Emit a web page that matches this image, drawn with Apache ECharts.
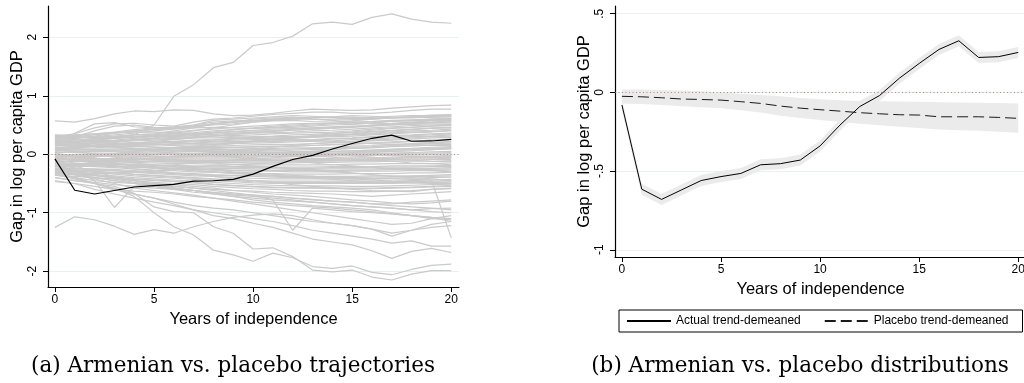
<!DOCTYPE html>
<html>
<head>
<meta charset="utf-8">
<script src="https://cdn.jsdelivr.net/npm/echarts@6/dist/echarts.min.js"></script>
<style>
  html, body { margin: 0; padding: 0; background: #fff; overflow: hidden; }
  #chart { width: 1024px; height: 383px; }
</style>
</head>
<body>
<div id="chart"></div>
<script>
const years = [0,1,2,3,4,5,6,7,8,9,10,11,12,13,14,15,16,17,18,19,20];

// Armenia (same path in both panels)
const actual = [-0.08,-0.615,-0.68,-0.62,-0.56,-0.535,-0.515,-0.46,-0.453,-0.43,-0.34,-0.208,-0.09,-0.02,0.09,0.184,0.273,0.328,0.222,0.227,0.254];
const actualHi = [-0.045,-0.58,-0.645,-0.585,-0.525,-0.5,-0.48,-0.425,-0.418,-0.395,-0.305,-0.173,-0.055,0.015,0.125,0.219,0.308,0.363,0.257,0.262,0.289];
const actualLo = [-0.115,-0.65,-0.715,-0.655,-0.595,-0.57,-0.55,-0.495,-0.488,-0.465,-0.375,-0.243,-0.125,-0.055,0.055,0.149,0.238,0.293,0.187,0.192,0.219];

// placebo mean and its band
const placeboMean = [-0.025,-0.028,-0.034,-0.042,-0.045,-0.049,-0.059,-0.07,-0.087,-0.1,-0.11,-0.119,-0.129,-0.136,-0.142,-0.144,-0.155,-0.155,-0.155,-0.159,-0.165];
const placeboHi = [0.019,0.018,0.016,0.012,0.008,0.0,-0.008,-0.016,-0.025,-0.035,-0.044,-0.05,-0.054,-0.056,-0.058,-0.059,-0.062,-0.064,-0.066,-0.068,-0.07];
const placeboLo = [-0.07,-0.074,-0.08,-0.088,-0.094,-0.1,-0.113,-0.128,-0.148,-0.163,-0.176,-0.188,-0.2,-0.209,-0.218,-0.226,-0.236,-0.24,-0.244,-0.25,-0.256];

// placebo trajectories, left panel
const placeboHigh = [
  [0.22,0.27,0.3,0.28,0.33,0.5,0.99,1.19,1.48,1.57,1.86,1.91,2.02,2.23,2.26,2.22,2.34,2.40,2.31,2.26,2.24]
];
const placeboUpper = [
  [0.57,0.55,0.61,0.69,0.74,0.73,0.76,0.75,0.69,0.66,0.67,0.70,0.74,0.77,0.76,0.75,0.76,0.79,0.81,0.83,0.84],
  [0.30,0.35,0.45,0.52,0.53,0.50,0.48,0.55,0.60,0.62,0.65,0.68,0.70,0.72,0.72,0.70,0.70,0.72,0.75,0.77,0.77],
  [0.25,0.30,0.40,0.48,0.50,0.46,0.45,0.50,0.58,0.60,0.62,0.64,0.66,0.65,0.63,0.60,0.60,0.62,0.65,0.67,0.68],
  [0.20,0.36,0.52,0.54,0.47,0.45,0.44,0.48,0.52,0.55,0.57,0.58,0.60,0.62,0.64,0.66,0.65,0.63,0.62,0.64,0.66],
  [0.20,0.22,0.25,0.27,0.30,0.33,0.36,0.40,0.45,0.50,0.55,0.60,0.62,0.63,0.64,0.63,0.62,0.62,0.63,0.65,0.66],
  [0.32,0.30,0.28,0.30,0.33,0.35,0.40,0.45,0.52,0.55,0.60,0.62,0.63,0.60,0.58,0.55,0.52,0.53,0.55,0.57,0.60],
  [0.05,0.10,0.15,0.20,0.25,0.28,0.32,0.35,0.38,0.42,0.45,0.48,0.50,0.52,0.53,0.55,0.56,0.57,0.58,0.60,0.62]
];
const placeboCore = [
  [0.33,0.32,0.35,0.38,0.42,0.45,0.47,0.50,0.55,0.57,0.58,0.60,0.62,0.63,0.62,0.61,0.63,0.65,0.66,0.66,0.67],
  [0.31,0.30,0.33,0.36,0.39,0.43,0.45,0.48,0.52,0.55,0.57,0.59,0.60,0.60,0.59,0.59,0.61,0.63,0.64,0.65,0.66],
  [0.30,0.28,0.30,0.33,0.36,0.40,0.43,0.47,0.50,0.52,0.55,0.57,0.58,0.56,0.55,0.57,0.60,0.62,0.63,0.63,0.64],
  [0.28,0.25,0.26,0.28,0.30,0.32,0.35,0.37,0.40,0.42,0.44,0.46,0.48,0.50,0.52,0.54,0.56,0.58,0.59,0.60,0.61],
  [0.27,0.29,0.29,0.31,0.33,0.35,0.38,0.41,0.43,0.46,0.48,0.50,0.52,0.53,0.53,0.52,0.54,0.57,0.58,0.59,0.60],
  [0.26,0.27,0.31,0.36,0.40,0.42,0.44,0.45,0.46,0.45,0.44,0.45,0.46,0.48,0.50,0.51,0.53,0.56,0.57,0.58,0.58],
  [0.24,0.22,0.23,0.24,0.27,0.30,0.32,0.33,0.36,0.38,0.40,0.40,0.41,0.43,0.44,0.46,0.48,0.50,0.52,0.54,0.55],
  [0.23,0.21,0.24,0.27,0.29,0.31,0.33,0.35,0.37,0.39,0.41,0.43,0.44,0.45,0.46,0.47,0.50,0.52,0.54,0.55,0.57],
  [0.22,0.24,0.27,0.29,0.30,0.31,0.30,0.32,0.34,0.36,0.38,0.40,0.43,0.45,0.47,0.48,0.49,0.50,0.51,0.52,0.52],
  [0.20,0.18,0.19,0.21,0.24,0.26,0.27,0.29,0.31,0.32,0.33,0.35,0.36,0.37,0.38,0.40,0.43,0.45,0.46,0.48,0.49],
  [0.19,0.21,0.21,0.23,0.25,0.27,0.29,0.30,0.32,0.34,0.36,0.37,0.38,0.40,0.41,0.43,0.45,0.47,0.49,0.50,0.51],
  [0.18,0.20,0.22,0.22,0.23,0.24,0.26,0.28,0.28,0.29,0.30,0.31,0.33,0.34,0.36,0.37,0.39,0.41,0.43,0.45,0.46],
  [0.16,0.15,0.16,0.18,0.19,0.21,0.22,0.24,0.25,0.27,0.28,0.30,0.30,0.31,0.32,0.34,0.36,0.38,0.40,0.41,0.43],
  [0.15,0.13,0.15,0.16,0.17,0.19,0.21,0.23,0.24,0.26,0.27,0.28,0.29,0.30,0.32,0.33,0.35,0.37,0.38,0.39,0.41],
  [0.14,0.16,0.18,0.17,0.18,0.19,0.20,0.21,0.22,0.24,0.25,0.26,0.27,0.29,0.30,0.31,0.33,0.35,0.37,0.38,0.40],
  [0.12,0.10,0.11,0.13,0.15,0.16,0.18,0.19,0.21,0.22,0.22,0.23,0.24,0.25,0.27,0.28,0.30,0.32,0.33,0.35,0.36],
  [0.11,0.13,0.14,0.15,0.16,0.17,0.17,0.18,0.19,0.20,0.21,0.22,0.23,0.24,0.26,0.27,0.29,0.30,0.32,0.33,0.35],
  [0.10,0.12,0.13,0.14,0.13,0.14,0.15,0.16,0.17,0.18,0.19,0.20,0.21,0.22,0.23,0.25,0.26,0.28,0.30,0.31,0.33],
  [0.08,0.07,0.08,0.09,0.10,0.11,0.12,0.13,0.14,0.15,0.16,0.17,0.17,0.18,0.20,0.21,0.23,0.24,0.26,0.28,0.29],
  [0.07,0.05,0.06,0.07,0.08,0.08,0.09,0.10,0.11,0.12,0.13,0.14,0.14,0.15,0.17,0.18,0.19,0.20,0.22,0.24,0.26],
  [0.06,0.08,0.09,0.09,0.08,0.09,0.10,0.10,0.11,0.12,0.12,0.13,0.14,0.15,0.16,0.17,0.19,0.21,0.22,0.24,0.25],
  [0.04,0.03,0.04,0.05,0.06,0.06,0.07,0.07,0.08,0.09,0.09,0.10,0.11,0.11,0.12,0.14,0.15,0.17,0.18,0.20,0.21],
  [0.03,0.05,0.06,0.06,0.05,0.06,0.06,0.07,0.07,0.08,0.08,0.09,0.09,0.10,0.11,0.12,0.13,0.15,0.16,0.18,0.19],
  [0.02,0.04,0.05,0.04,0.03,0.04,0.04,0.05,0.05,0.06,0.06,0.07,0.07,0.08,0.09,0.10,0.11,0.13,0.14,0.16,0.17],
  [0.00,-0.01,0.00,0.01,0.01,0.02,0.02,0.02,0.03,0.03,0.03,0.04,0.04,0.05,0.05,0.06,0.07,0.09,0.10,0.12,0.13],
  [-0.01,-0.03,-0.02,-0.01,0.00,0.00,0.01,0.01,0.01,0.02,0.02,0.02,0.03,0.03,0.04,0.04,0.05,0.07,0.08,0.10,0.11],
  [-0.02,0.00,0.01,0.00,-0.01,-0.01,0.00,0.00,0.00,0.01,0.01,0.01,0.01,0.02,0.02,0.03,0.04,0.05,0.06,0.08,0.09],
  [-0.04,-0.05,-0.04,-0.03,-0.03,-0.03,-0.03,-0.02,-0.02,-0.02,-0.02,-0.01,-0.01,-0.01,0.00,0.00,0.01,0.02,0.03,0.04,0.05],
  [-0.05,-0.03,-0.02,-0.02,-0.03,-0.04,-0.04,-0.03,-0.03,-0.04,-0.03,-0.03,-0.02,-0.02,-0.02,-0.01,0.00,0.01,0.02,0.02,0.03],
  [-0.06,-0.04,-0.03,-0.04,-0.05,-0.05,-0.05,-0.05,-0.05,-0.05,-0.05,-0.04,-0.04,-0.04,-0.03,-0.03,-0.02,-0.01,0.00,0.00,0.01],
  [-0.08,-0.09,-0.08,-0.07,-0.07,-0.08,-0.08,-0.08,-0.08,-0.08,-0.08,-0.08,-0.08,-0.07,-0.07,-0.06,-0.06,-0.05,-0.04,-0.04,-0.03],
  [-0.09,-0.10,-0.10,-0.09,-0.09,-0.09,-0.09,-0.10,-0.10,-0.10,-0.10,-0.10,-0.09,-0.09,-0.09,-0.08,-0.08,-0.07,-0.06,-0.06,-0.05],
  [-0.10,-0.08,-0.07,-0.08,-0.09,-0.10,-0.10,-0.11,-0.11,-0.11,-0.11,-0.11,-0.11,-0.11,-0.10,-0.10,-0.09,-0.09,-0.08,-0.08,-0.07],
  [-0.12,-0.13,-0.12,-0.12,-0.12,-0.13,-0.13,-0.14,-0.14,-0.14,-0.15,-0.15,-0.15,-0.14,-0.14,-0.13,-0.13,-0.12,-0.12,-0.12,-0.11],
  [-0.13,-0.11,-0.10,-0.11,-0.12,-0.12,-0.13,-0.13,-0.13,-0.13,-0.13,-0.13,-0.13,-0.12,-0.12,-0.11,-0.11,-0.10,-0.10,-0.09,-0.09],
  [-0.14,-0.12,-0.12,-0.13,-0.14,-0.15,-0.16,-0.16,-0.17,-0.17,-0.18,-0.18,-0.18,-0.18,-0.18,-0.17,-0.17,-0.16,-0.16,-0.16,-0.15],
  [-0.16,-0.17,-0.16,-0.16,-0.17,-0.18,-0.19,-0.20,-0.20,-0.21,-0.21,-0.22,-0.22,-0.22,-0.21,-0.21,-0.21,-0.20,-0.20,-0.20,-0.19],
  [-0.17,-0.18,-0.18,-0.17,-0.18,-0.19,-0.20,-0.21,-0.22,-0.22,-0.23,-0.23,-0.24,-0.24,-0.23,-0.23,-0.22,-0.22,-0.22,-0.21,-0.21],
  [-0.18,-0.16,-0.16,-0.18,-0.19,-0.21,-0.22,-0.23,-0.24,-0.24,-0.25,-0.25,-0.26,-0.26,-0.25,-0.25,-0.25,-0.24,-0.24,-0.24,-0.23],
  [-0.20,-0.21,-0.20,-0.21,-0.22,-0.24,-0.25,-0.26,-0.27,-0.28,-0.29,-0.29,-0.30,-0.30,-0.30,-0.29,-0.29,-0.29,-0.28,-0.28,-0.27],
  [-0.21,-0.19,-0.19,-0.20,-0.22,-0.23,-0.24,-0.25,-0.26,-0.27,-0.27,-0.28,-0.28,-0.28,-0.28,-0.27,-0.27,-0.26,-0.26,-0.26,-0.25],
  [-0.22,-0.20,-0.21,-0.23,-0.25,-0.27,-0.28,-0.30,-0.31,-0.32,-0.33,-0.33,-0.34,-0.34,-0.34,-0.33,-0.33,-0.33,-0.32,-0.32,-0.31],
  [-0.24,-0.25,-0.25,-0.26,-0.28,-0.30,-0.32,-0.33,-0.35,-0.36,-0.37,-0.37,-0.38,-0.38,-0.38,-0.38,-0.37,-0.37,-0.37,-0.36,-0.35],
  [-0.25,-0.27,-0.27,-0.28,-0.30,-0.31,-0.33,-0.35,-0.36,-0.37,-0.38,-0.39,-0.40,-0.40,-0.40,-0.40,-0.39,-0.39,-0.38,-0.38,-0.37],
  [-0.26,-0.24,-0.26,-0.28,-0.31,-0.33,-0.35,-0.37,-0.38,-0.40,-0.41,-0.42,-0.42,-0.42,-0.42,-0.42,-0.42,-0.41,-0.41,-0.40,-0.39],
  [-0.28,-0.30,-0.30,-0.31,-0.34,-0.36,-0.38,-0.40,-0.42,-0.44,-0.45,-0.46,-0.46,-0.46,-0.46,-0.46,-0.46,-0.46,-0.45,-0.44,-0.43],
  [-0.29,-0.27,-0.29,-0.32,-0.35,-0.37,-0.39,-0.41,-0.43,-0.45,-0.47,-0.48,-0.48,-0.48,-0.48,-0.48,-0.48,-0.48,-0.47,-0.46,-0.45],
  [-0.30,-0.28,-0.31,-0.34,-0.37,-0.39,-0.41,-0.43,-0.45,-0.47,-0.49,-0.50,-0.50,-0.50,-0.50,-0.50,-0.50,-0.50,-0.49,-0.48,-0.47],
  [-0.32,-0.34,-0.35,-0.37,-0.40,-0.42,-0.44,-0.46,-0.48,-0.50,-0.52,-0.53,-0.54,-0.54,-0.54,-0.55,-0.55,-0.54,-0.53,-0.52,-0.51],
  [-0.33,-0.35,-0.37,-0.39,-0.42,-0.44,-0.46,-0.48,-0.51,-0.53,-0.55,-0.56,-0.57,-0.57,-0.58,-0.58,-0.58,-0.57,-0.56,-0.55,-0.53],
  [-0.34,-0.33,-0.36,-0.40,-0.43,-0.45,-0.47,-0.49,-0.52,-0.54,-0.56,-0.57,-0.58,-0.58,-0.59,-0.59,-0.59,-0.58,-0.57,-0.56,-0.55],
  [-0.36,-0.38,-0.40,-0.42,-0.45,-0.48,-0.50,-0.52,-0.55,-0.57,-0.59,-0.60,-0.62,-0.63,-0.63,-0.64,-0.64,-0.63,-0.62,-0.60,-0.59],
  [0.29,0.26,0.22,0.18,0.15,0.12,0.10,0.08,0.06,0.05,0.04,0.03,0.02,0.01,0.00,-0.01,-0.02,-0.02,-0.03,-0.04,-0.05],
  [0.25,0.20,0.15,0.12,0.10,0.05,0.02,0.00,-0.03,-0.05,-0.08,-0.10,-0.12,-0.15,-0.18,-0.20,-0.22,-0.25,-0.27,-0.28,-0.30],
  [-0.27,-0.22,-0.18,-0.14,-0.10,-0.06,-0.03,0.00,0.03,0.06,0.09,0.12,0.15,0.18,0.20,0.22,0.24,0.26,0.28,0.30,0.31],
  [-0.25,-0.20,-0.15,-0.10,-0.05,0.00,0.05,0.10,0.15,0.18,0.22,0.25,0.28,0.30,0.33,0.35,0.38,0.40,0.42,0.44,0.45],
  [0.09,0.11,0.14,0.16,0.19,0.22,0.25,0.28,0.31,0.34,0.37,0.39,0.41,0.43,0.45,0.47,0.49,0.51,0.53,0.54,0.56],
  [0.15,0.18,0.20,0.22,0.20,0.18,0.15,0.12,0.10,0.08,0.05,0.03,0.00,-0.02,-0.05,-0.08,-0.10,-0.12,-0.15,-0.16,-0.18],
  [0.17,0.16,0.14,0.12,0.10,0.09,0.07,0.06,0.05,0.04,0.03,0.03,0.02,0.02,0.01,0.01,0.00,0.00,-0.01,-0.01,-0.02],
  [-0.07,-0.10,-0.13,-0.16,-0.19,-0.22,-0.25,-0.28,-0.30,-0.33,-0.35,-0.37,-0.39,-0.41,-0.43,-0.45,-0.47,-0.48,-0.49,-0.50,-0.50],
  [-0.10,-0.15,-0.18,-0.20,-0.22,-0.20,-0.18,-0.15,-0.12,-0.10,-0.05,0.00,0.02,0.05,0.08,0.10,0.12,0.15,0.18,0.20,0.22],
  [-0.19,-0.17,-0.14,-0.12,-0.10,-0.08,-0.06,-0.04,-0.02,0.00,0.01,0.02,0.03,0.04,0.05,0.06,0.07,0.08,0.09,0.10,0.11],
  [0.30,0.33,0.35,0.37,0.38,0.38,0.37,0.35,0.33,0.30,0.28,0.26,0.25,0.24,0.22,0.20,0.18,0.17,0.16,0.15,0.15],
  [0.01,-0.03,-0.07,-0.11,-0.15,-0.18,-0.21,-0.24,-0.27,-0.30,-0.32,-0.34,-0.36,-0.38,-0.40,-0.42,-0.44,-0.46,-0.47,-0.48,-0.49],
  [-0.30,-0.32,-0.33,-0.32,-0.30,-0.28,-0.25,-0.22,-0.20,-0.18,-0.16,-0.15,-0.13,-0.12,-0.10,-0.10,-0.08,-0.07,-0.05,-0.05,-0.04],
  [-0.11,-0.07,-0.03,0.01,0.05,0.08,0.11,0.14,0.17,0.20,0.23,0.26,0.29,0.32,0.35,0.38,0.41,0.44,0.46,0.48,0.50],
  [-0.05,-0.10,-0.15,-0.20,-0.25,-0.28,-0.32,-0.35,-0.38,-0.42,-0.45,-0.48,-0.52,-0.55,-0.57,-0.60,-0.62,-0.63,-0.64,-0.60,-0.58],
  [-0.20,-0.18,-0.15,-0.12,-0.10,-0.08,-0.10,-0.12,-0.15,-0.18,-0.20,-0.22,-0.25,-0.28,-0.30,-0.32,-0.35,-0.38,-0.40,-0.42,-0.45],
  [0.10,0.05,0.00,-0.05,-0.08,-0.10,-0.12,-0.13,-0.12,-0.10,-0.08,-0.06,-0.04,-0.02,0.00,0.02,0.03,0.05,0.06,0.08,0.10],
  [-0.15,-0.10,-0.05,0.00,0.05,0.08,0.10,0.12,0.13,0.12,0.10,0.08,0.05,0.03,0.00,-0.03,-0.05,-0.08,-0.10,-0.12,-0.13],
  [-0.35,-0.40,-0.45,-0.48,-0.50,-0.52,-0.55,-0.58,-0.60,-0.62,-0.63,-0.65,-0.66,-0.67,-0.68,-0.70,-0.72,-0.70,-0.68,-0.66,-0.64]
];
const placeboLower = [
  [-0.30,-0.35,-0.40,-0.45,-0.50,-0.55,-0.60,-0.65,-0.68,-0.72,-0.75,-0.78,-0.80,-0.82,-0.85,-0.88,-0.90,-0.92,-0.95,-0.98,-1.00],
  [-0.25,-0.30,-0.35,-0.42,-0.48,-0.52,-0.58,-0.62,-0.68,-0.72,-0.78,-0.82,-0.85,-0.88,-0.90,-0.92,-0.95,-1.00,-1.05,-1.10,-1.12],
  [-0.40,-0.45,-0.48,-0.52,-0.55,-0.58,-0.60,-0.62,-0.65,-0.68,-0.70,-0.72,-0.75,-0.78,-0.80,-0.82,-0.85,-0.85,-0.82,-0.80,-0.78],
  [-0.45,-0.50,-0.55,-0.60,-0.63,-0.65,-0.68,-0.72,-0.75,-0.78,-0.82,-0.85,-0.88,-0.90,-0.92,-0.95,-0.98,-1.02,-1.05,-1.08,-1.15],
  [-0.20,-0.28,-0.35,-0.40,-0.45,-0.50,-0.52,-0.55,-0.58,-0.62,-0.65,-0.68,-0.70,-0.72,-0.75,-0.78,-0.80,-0.83,-0.85,-0.83,-0.80],
  [-0.35,-0.40,-0.50,-0.60,-0.68,-0.75,-0.82,-0.88,-0.92,-0.95,-1.00,-1.05,-1.10,-1.15,-1.18,-1.22,-1.28,-1.35,-1.30,-1.20,-1.15],
  [-0.10,-0.20,-0.30,-0.38,-0.45,-0.52,-0.58,-0.62,-0.66,-0.70,-0.72,-0.75,-0.78,-0.82,-0.85,-0.88,-0.90,-0.92,-0.95,-0.93,-0.92],
  [-0.30,-0.35,-0.42,-0.50,-0.58,-0.62,-0.66,-0.70,-0.75,-0.80,-0.85,-0.90,-0.95,-1.00,-1.05,-1.10,-1.15,-1.20,-1.18,-1.10,-1.05],
  [-0.20,-0.28,-0.45,-0.91,-0.55,-0.50,-0.55,-0.58,-0.62,-0.66,-0.70,-0.72,-0.75,-0.77,-0.80,-0.82,-0.85,-0.88,-0.90,-0.92,-0.95],
  [-0.30,-0.35,-0.40,-0.45,-0.50,-0.55,-0.58,-0.62,-0.66,-0.68,-0.70,-0.78,-1.30,-0.92,-0.95,-0.98,-1.00,-1.02,-1.05,-1.08,-1.10],
  [0.00,-0.05,-0.10,-0.15,-0.20,-0.22,-0.25,-0.28,-0.30,-0.32,-0.34,-0.36,-0.38,-0.38,-0.40,-0.41,-0.42,-0.42,-0.43,-0.44,-1.43]
];
const placeboLow = [
  [-1.25,-1.07,-1.12,-1.23,-1.37,-1.29,-1.35,-1.24,-1.15,-1.08,-1.04,-1.02,-1.05,-1.12,-1.18,-1.22,-1.28,-1.40,-1.30,-1.25,-1.22],
  [-0.40,-0.45,-0.50,-0.58,-0.72,-1.00,-1.24,-1.38,-1.64,-1.72,-1.83,-1.69,-1.77,-1.92,-1.95,-1.91,-2.02,-2.06,-1.97,-1.90,-1.88],
  [-0.35,-0.42,-0.50,-0.55,-0.67,-0.90,-0.98,-1.00,-1.24,-1.35,-1.62,-1.60,-1.75,-1.98,-2.01,-1.98,-2.10,-2.15,-2.05,-1.99,-1.99],
  [-0.30,-0.40,-0.50,-0.60,-0.68,-0.75,-0.85,-0.95,-1.05,-1.10,-1.18,-1.25,-1.35,-1.45,-1.50,-1.55,-1.65,-1.78,-1.66,-1.61,-1.68],
  [-0.47,-0.50,-0.60,-0.68,-0.75,-0.82,-0.88,-0.95,-1.00,-1.05,-1.10,-1.15,-1.22,-1.30,-1.35,-1.40,-1.45,-1.52,-1.48,-1.57,-1.57]
];

const fontSans = 'Liberation Sans';
const grey = '#cacaca';
const bandGrey = '#ebebeb';

function pts(arr) {
  return years.map((y, i) => [y, arr[i]]);
}

function greyLine(arr) {
  return {
    type: 'line', xAxisIndex: 0, yAxisIndex: 0,
    data: pts(arr), symbol: 'none', silent: true,
    lineStyle: { color: grey, width: 1.2 }, z: 2
  };
}

// shaded interval drawn through the axis scales
function band(lo, hi) {
  return {
    type: 'custom', xAxisIndex: 1, yAxisIndex: 1, silent: true, z: 1,
    data: [[0, 0]],
    renderItem: (params, api) => {
      const upper = years.map((x, i) => api.coord([x, hi[i]]));
      const lower = years.map((x, i) => api.coord([x, lo[i]])).reverse();
      return { type: 'polygon', shape: { points: upper.concat(lower) }, style: { fill: bandGrey } };
    }
  };
}

// dotted zero reference, one per panel
function zeroRef(idx, z) {
  return {
    type: 'line', xAxisIndex: idx, yAxisIndex: idx, data: [], z: z, silent: true,
    markLine: {
      symbol: 'none', silent: true, label: { show: false },
      lineStyle: { color: '#b25a5a', type: [1, 2.5], width: 0.8, opacity: 0.9 },
      data: [{ yAxis: 0 }]
    }
  };
}

const tickFmt = v => (v === 0 ? '0' : String(v).replace('0.', '.'));

function yAxisBase(min, max, ticks, idx) {
  return {
    type: 'value', gridIndex: idx, min: min, max: max,
    name: 'Gap in log per capita GDP', nameLocation: 'middle', nameGap: 22,
    nameTextStyle: { fontFamily: fontSans, fontSize: 16.5, color: '#000' },
    axisLine: { show: true, onZero: false, lineStyle: { color: '#000', width: 1.2 } },
    axisTick: { show: true, length: 5, customValues: ticks, lineStyle: { color: '#000', width: 1 } },
    axisLabel: { rotate: 90, margin: 9, customValues: ticks, formatter: tickFmt,
      fontFamily: fontSans, fontSize: 12, color: '#000' },
    splitLine: { show: true, lineStyle: { color: '#e8f0f0', width: 1 } }
  };
}

function xAxisBase(idx) {
  const ticks = [0, 5, 10, 15, 20];
  return {
    type: 'value', gridIndex: idx, min: -0.35, max: 20.39,
    name: 'Years of independence', nameLocation: 'middle', nameGap: 16,
    nameTextStyle: { fontFamily: fontSans, fontSize: 16.5, color: '#000' },
    axisLine: { show: true, onZero: false, lineStyle: { color: '#000', width: 1.2 } },
    axisTick: { show: true, length: 5, customValues: ticks, lineStyle: { color: '#000', width: 1 } },
    axisLabel: { margin: 7, customValues: ticks, fontFamily: fontSans, fontSize: 12, color: '#000' },
    splitLine: { show: false }
  };
}

const series = [];
series.push(zeroRef(0, 1));
placeboCore.forEach(a => series.push(greyLine(a)));
placeboUpper.forEach(a => series.push(greyLine(a)));
placeboLower.forEach(a => series.push(greyLine(a)));
placeboLow.forEach(a => series.push(greyLine(a)));
placeboHigh.forEach(a => series.push(greyLine(a)));

series.push({
  name: 'Armenia', type: 'line', xAxisIndex: 0, yAxisIndex: 0,
  data: pts(actual), symbol: 'none', silent: true,
  lineStyle: { color: '#000', width: 1.2 }, z: 5
});

series.push(band(placeboLo, placeboHi));
series.push(band(actualLo, actualHi));
series.push(zeroRef(1, 3));
series.push({
  name: 'Actual trend-demeaned', type: 'line', xAxisIndex: 1, yAxisIndex: 1,
  data: pts(actual), symbol: 'none', silent: true, color: '#000',
  lineStyle: { color: '#000', width: 1 }, z: 4
});
series.push({
  name: 'Placebo trend-demeaned', type: 'line', xAxisIndex: 1, yAxisIndex: 1,
  data: pts(placeboMean), symbol: 'none', silent: true, color: '#000',
  lineStyle: { color: '#1a1a1a', width: 1, type: [11, 5] }, z: 4
});

const chart = echarts.init(document.getElementById('chart'), null, { renderer: 'canvas' });
chart.setOption({
  animation: false,
  backgroundColor: '#fff',
  grid: [
    { left: 48, top: 6, width: 411, height: 281, outerBoundsMode: 'none' },
    { left: 615, top: 6, width: 411, height: 251, outerBoundsMode: 'none' }
  ],
  xAxis: [xAxisBase(0), xAxisBase(1)],
  yAxis: [
    yAxisBase(-2.27, 2.535, [-2, -1, 0, 1, 2], 0),
    yAxisBase(-1.046, 0.549, [-1, -0.5, 0, 0.5], 1)
  ],
  legend: {
    left: 619, top: 310,
    data: ['Actual trend-demeaned', 'Placebo trend-demeaned'],
    selectedMode: false,
    borderColor: '#000', borderWidth: 1, borderRadius: 0,
    padding: [5, 14, 5, 7],
    itemWidth: 44, itemHeight: 14, itemGap: 23,
    itemStyle: { opacity: 0 },
    textStyle: { fontFamily: fontSans, fontSize: 12, color: '#000' }
  },
  graphic: [
    { type: 'text', x: 233, y: 366, silent: true,
      style: { text: '(a) Armenian vs. placebo trajectories', fontFamily: 'DejaVu Serif', fontSize: 21.5,
        fill: '#000', textAlign: 'center', textVerticalAlign: 'middle' } },
    { type: 'text', x: 800, y: 366, silent: true,
      style: { text: '(b) Armenian vs. placebo distributions', fontFamily: 'DejaVu Serif', fontSize: 21.5,
        fill: '#000', textAlign: 'center', textVerticalAlign: 'middle' } }
  ],
  series: series
});
</script>
</body>
</html>
